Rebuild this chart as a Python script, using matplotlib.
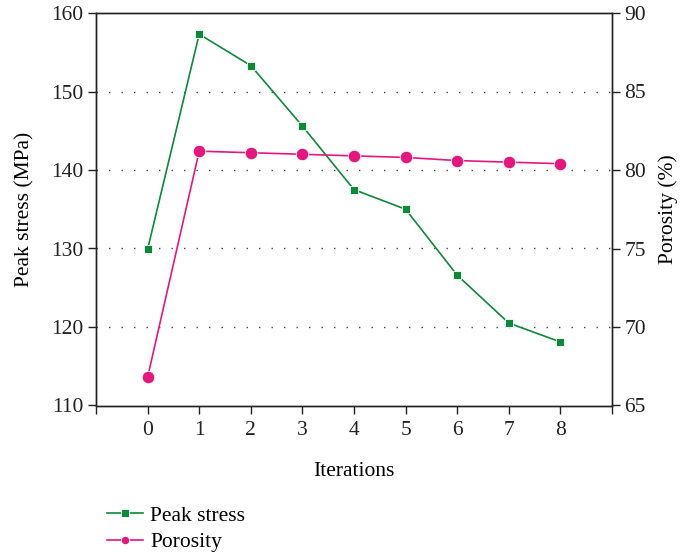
import matplotlib
matplotlib.use("Agg")
import matplotlib.pyplot as plt
from matplotlib.lines import Line2D

iterations = [0, 1, 2, 3, 4, 5, 6, 7, 8]
peak_stress = [129.9, 157.3, 153.3, 145.6, 137.5, 135.0, 126.6, 120.5, 118.1]
porosity = [66.8, 81.2, 81.1, 81.0, 80.9, 80.8, 80.6, 80.5, 80.4]

green = "#0b8a3a"
pink = "#e5177f"

plt.rcParams['font.family'] = ['Liberation Serif', 'DejaVu Serif']
fs = 15.5
plt.rcParams['font.size'] = fs

fig = plt.figure(figsize=(6.81, 5.55), dpi=100)
ax = fig.add_axes([96/681, 1 - 405.5/555, (612-96)/681, (405.5-13)/555])
ax2 = ax.twinx()

ax.plot(iterations, peak_stress, color=green, lw=1.2, marker='s', ms=6,
        markerfacecolor=green, markeredgecolor='white', markeredgewidth=0.6, zorder=3)
ax2.plot(iterations, porosity, color=pink, lw=1.2, marker='o', ms=9,
         markerfacecolor=pink, markeredgecolor='white', markeredgewidth=0.6, zorder=3)

ax.set_xlim(-1, 9)
ax.set_ylim(110, 160)
ax2.set_ylim(65, 90)
ax.set_yticks([110, 120, 130, 140, 150, 160])
ax2.set_yticks([65, 70, 75, 80, 85, 90])
ax.set_xticks(list(range(-1, 10)))
ax.set_xticklabels([''] + [str(i) for i in iterations] + [''])

for y in [120, 130, 140, 150]:
    ax.axhline(y, color='#444444', lw=1.0, ls=(0, (1, 8)), zorder=1)

for a in (ax, ax2):
    a.tick_params(direction='out', length=6, width=1.0, colors='#222222',
                  labelsize=fs, pad=3)
    for s in a.spines.values():
        s.set_linewidth(1.0)
        s.set_color('#222222')
ax.tick_params(axis='x', pad=5)

ax.set_xlabel('Iterations', fontsize=fs, labelpad=16)
ax.set_ylabel('Peak stress (MPa)', fontsize=fs, labelpad=12)
ax2.set_ylabel('Porosity (%)', fontsize=fs, labelpad=9)

handles = [
    Line2D([], [], color=green, lw=1.2, marker='s', ms=6, markerfacecolor=green,
           markeredgecolor='white', markeredgewidth=0.6),
    Line2D([], [], color=pink, lw=1.2, marker='o', ms=6, markerfacecolor=pink,
           markeredgecolor='white', markeredgewidth=0.6),
]
fig.legend(handles, ['Peak stress', 'Porosity'], loc='lower left',
           bbox_to_anchor=(88/681, -0.03), frameon=False, fontsize=fs,
           handlelength=1.65, handletextpad=0.35, labelspacing=0.3)

fig.savefig('out.png', dpi=100)
